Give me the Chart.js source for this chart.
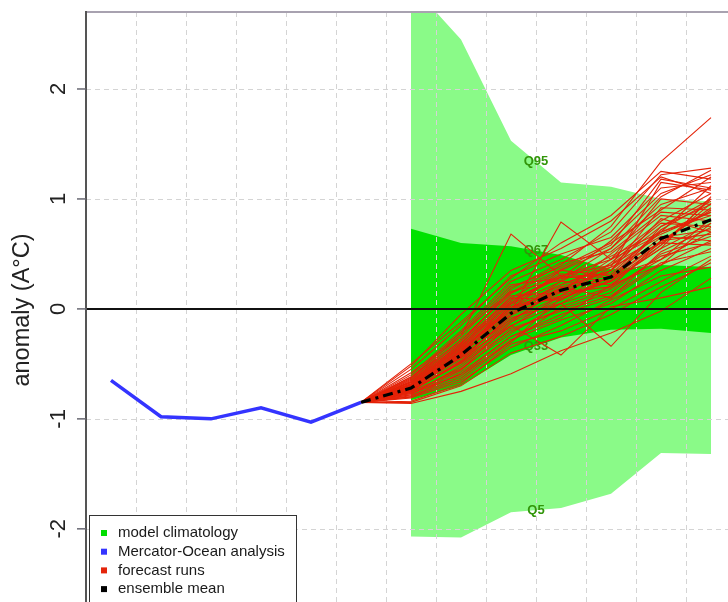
<!DOCTYPE html>
<html>
<head>
<meta charset="utf-8">
<script src="https://cdn.jsdelivr.net/npm/chart.js@4.4.1/dist/chart.umd.min.js"></script>
<style>
  html, body { margin: 0; padding: 0; background: #fff; overflow: hidden; width: 728px; height: 602px; }
  #wrap { position: absolute; left: 0; top: 0; width: 800px; height: 650px; }
</style>
</head>
<body>
<div id="wrap"><canvas id="c" width="800" height="650"></canvas></div>
<script>
// Monthly steps: analysis for steps 0..5, forecast from step 5 onwards
const analysisSteps = [0, 1, 2, 3, 4, 5];
const analysisValues = [-0.65, -0.98, -1.0, -0.9, -1.03, -0.85];

const forecastSteps = [6, 7, 8, 9, 10, 11, 12];

// Model climatology quantiles for each forecast step
const q95 = [2.95, 2.45, 1.53, 1.15, 1.11, 1.0, 0.98];
const q67 = [0.73, 0.60, 0.57, 0.49, 0.36, 0.40, 0.38];
const q33 = [-0.83, -0.70, -0.42, -0.26, -0.19, -0.18, -0.22];
const q5  = [-2.07, -2.08, -1.85, -1.81, -1.68, -1.31, -1.32];

// Ensemble mean, starting from the last analysis step
const meanSteps = [5, 6, 7, 8, 9, 10, 11, 12];
const ensembleMean = [-0.85, -0.72, -0.42, -0.04, 0.17, 0.29, 0.64, 0.81];

// Individual forecast members (steps 6..12)
const forecastRuns = [
  [-0.70, -0.40, -0.05, 0.20, 0.35, 0.70, 0.85],
  [-0.75, -0.48, -0.10, 0.12, 0.25, 0.55, 0.78],
  [-0.68, -0.35, 0.05, 0.30, 0.45, 0.80, 1.05],
  [-0.80, -0.58, -0.25, -0.05, 0.10, 0.40, 0.62],
  [-0.72, -0.42, 0.00, 0.18, 0.28, 0.62, 0.90],
  [-0.62, -0.30, 0.10, 0.35, 0.55, 0.95, 1.10],
  [-0.78, -0.52, -0.15, 0.05, 0.20, 0.45, 0.70],
  [-0.58, -0.25, 0.68, 0.30, 0.40, 0.75, 0.95],
  [-0.74, -0.38, -0.02, 0.79, 0.45, 0.68, 0.88],
  [-0.86, -0.75, -0.59, -0.38, -0.22, -0.02, 0.28],
  [-0.66, -0.28, 0.15, 0.40, 0.75, 1.34, 1.74],
  [-0.71, -0.44, -0.08, 0.05, -0.34, 0.15, 0.45],
  [-0.60, -0.20, 0.25, 0.45, 0.70, 1.22, 1.28],
  [-0.76, -0.55, -0.12, 0.08, 0.30, 0.65, 0.72],
  [-0.69, -0.36, 0.02, 0.22, 0.38, 1.15, 1.08],
  [-0.73, -0.50, -0.20, 0.00, 0.15, 0.50, 0.66],
  [-0.64, -0.25, 0.20, 0.38, 0.60, 0.90, 1.20],
  [-0.79, -0.62, -0.28, -0.10, 0.05, 0.35, 0.55],
  [-0.70, -0.41, 0.08, 0.28, 0.32, 0.72, 0.98],
  [-0.67, -0.33, 0.12, 0.15, 0.50, 0.85, 0.80],
  [-0.75, -0.47, -0.05, 0.25, 0.22, 0.58, 1.00],
  [-0.55, -0.15, 0.30, 0.50, 0.65, 1.10, 1.15],
  [-0.77, -0.60, -0.30, 0.02, 0.18, 0.48, 0.60],
  [-0.72, -0.39, 0.00, 0.12, 0.42, 0.78, 0.75],
  [-0.52, -0.05, 0.35, 0.55, 0.80, 1.20, 1.05],
  [-0.81, -0.66, -0.35, -0.15, 0.08, 0.30, 0.38],
  [-0.68, -0.34, 0.06, 0.32, 0.28, 0.60, 0.92],
  [-0.74, -0.43, -0.10, 0.18, 0.35, 0.82, 0.70],
  [-0.71, -0.37, 0.02, 0.10, 0.25, 0.55, 1.02],
  [-0.66, -0.31, 0.18, 0.42, 0.52, 0.88, 0.85],
  [-0.78, -0.56, -0.18, -0.02, 0.12, 0.42, 0.52],
  [-0.63, -0.22, 0.22, 0.28, 0.62, 1.05, 1.22],
  [-0.73, -0.45, -0.06, 0.15, 0.20, 0.62, 0.68],
  [-0.70, -0.40, 0.04, 0.25, 0.48, 0.70, 1.12],
  [-0.76, -0.54, -0.22, 0.05, 0.30, 0.45, 0.82],
  [-0.69, -0.35, 0.10, 0.08, 0.35, 0.92, 0.90],
  [-0.74, -0.48, -0.12, 0.20, 0.10, 0.52, 0.74],
  [-0.65, -0.28, 0.14, 0.36, 0.58, 1.18, 1.10],
  [-0.84, -0.68, -0.32, -0.20, 0.00, 0.25, 0.48],
  [-0.71, -0.42, -0.03, 0.22, 0.40, 0.66, 0.62],
  [-0.67, -0.32, 0.08, 0.30, 0.25, 0.75, 1.00],
  [-0.75, -0.49, -0.16, 0.12, 0.38, 0.60, 0.58],
  [-0.72, -0.40, 0.02, 0.16, 0.45, 1.00, 0.95],
  [-0.69, -0.38, 0.00, 0.35, 0.30, 0.70, 0.88],
  [-0.77, -0.60, -0.25, -0.08, 0.22, 0.40, 0.78],
  [-0.70, -0.45, -0.15, -0.42, 0.02, 0.10, 0.20],
  [-0.50, -0.12, 0.28, 0.60, 0.85, 1.25, 1.18],
  [-0.85, -0.70, -0.40, -0.25, -0.05, 0.20, 0.42],
  [-0.62, -0.22, 0.16, 0.26, 0.55, 1.02, 1.26],
  [-0.80, -0.64, -0.30, 0.10, 0.26, 0.58, 0.96]
];

const yTickValues = [-2, -1, 0, 1, 2];
const quantileLabels = ['Q95', 'Q67', 'Q33', 'Q5'];
const legendNames = ['model climatology', 'Mercator-Ocean analysis', 'forecast runs', 'ensemble mean'];
const legendColors = ['rgb(0,222,0)', 'rgb(52,52,255)', 'rgb(228,36,10)', '#000000'];

const FONT = '"Liberation Sans", Arial, Helvetica, sans-serif';
const LIGHT_GREEN = 'rgb(138,250,136)';
const DARK_GREEN = 'rgb(0,226,0)';
const RUN_RED = 'rgb(228,34,8)';
const BLUE = 'rgb(52,52,255)';

const pts = (xs, ys) => xs.map((x, i) => ({ x: x, y: ys[i] }));
const lastAnalysis = analysisValues[analysisValues.length - 1];

const datasets = [
  { label: 'Q95', data: pts(forecastSteps, q95), fill: 1, backgroundColor: LIGHT_GREEN, borderWidth: 0, order: 10 },
  { label: 'Q5', data: pts(forecastSteps, q5), fill: false, borderWidth: 0, order: 9 },
  { label: 'Q67', data: pts(forecastSteps, q67), fill: 3, backgroundColor: DARK_GREEN, borderWidth: 0, order: 8 },
  { label: 'Q33', data: pts(forecastSteps, q33), fill: false, borderWidth: 0, order: 7 }
];
forecastRuns.forEach((run, k) => {
  datasets.push({
    label: 'run' + k,
    data: pts([5].concat(forecastSteps), [lastAnalysis].concat(run)),
    borderColor: RUN_RED, borderWidth: 1.1, fill: false, order: 5
  });
});
datasets.push({
  label: 'zero', data: [{ x: -0.5, y: 0 }, { x: 13.5, y: 0 }],
  borderColor: '#111', borderWidth: 2, fill: false, order: 3
});
datasets.push({
  label: 'ensemble mean', data: pts(meanSteps, ensembleMean),
  borderColor: '#000', borderWidth: 3.2, borderDash: [10, 5, 3, 5], fill: false, order: 2
});
datasets.push({
  label: 'Mercator-Ocean analysis', data: pts(analysisSteps, analysisValues),
  borderColor: BLUE, borderWidth: 3.5, fill: false, order: 1
});

// Grid and quantile labels drawn above the climatology bands
const decor = {
  id: 'decor',
  afterDatasetDraw(chart, args) {
    if (args.index !== 3) return;
    const ctx = chart.ctx, a = chart.chartArea;
    const xs = chart.scales.x, ys = chart.scales.y;
    ctx.save();
    ctx.beginPath(); ctx.rect(a.left, a.top, a.right - a.left, a.bottom - a.top); ctx.clip();
    ctx.strokeStyle = 'rgb(212,212,212)';
    ctx.lineWidth = 1;
    ctx.setLineDash([5, 4]);
    for (let s = 0.5; s < 13.5; s += 1) {
      const px = Math.round(xs.getPixelForValue(s)) + 0.5;
      ctx.beginPath(); ctx.moveTo(px, a.top); ctx.lineTo(px, a.bottom); ctx.stroke();
    }
    yTickValues.forEach(v => {
      const py = Math.round(ys.getPixelForValue(v)) + 0.5;
      ctx.beginPath(); ctx.moveTo(a.left, py); ctx.lineTo(a.right, py); ctx.stroke();
    });
    ctx.setLineDash([]);
    // quantile labels placed halfway between steps 8 and 9
    const qs = [q95, q67, q33, q5];
    ctx.fillStyle = 'rgb(50,150,10)';
    ctx.font = 'bold 13px ' + FONT;
    ctx.textAlign = 'center';
    ctx.textBaseline = 'middle';
    const lx = xs.getPixelForValue(8.5);
    qs.forEach((q, i) => {
      const ly = ys.getPixelForValue((q[2] + q[3]) / 2);
      ctx.fillText(quantileLabels[i], lx, ly);
    });
    ctx.restore();
  },
  afterDraw(chart) {
    const ctx = chart.ctx, a = chart.chartArea;
    const ys = chart.scales.y;
    ctx.save();
    // frame
    ctx.strokeStyle = 'rgb(168,162,176)';
    ctx.lineWidth = 2;
    ctx.beginPath(); ctx.moveTo(a.left, a.top); ctx.lineTo(a.right, a.top); ctx.stroke();
    ctx.strokeStyle = 'rgb(85,85,85)';
    ctx.beginPath(); ctx.moveTo(a.left, a.top - 1); ctx.lineTo(a.left, a.bottom); ctx.stroke();
    // y ticks and rotated labels
    ctx.lineWidth = 1.5;
    ctx.strokeStyle = 'rgb(105,105,115)';
    ctx.fillStyle = '#222';
    ctx.font = '22px ' + FONT;
    ctx.textAlign = 'center';
    ctx.textBaseline = 'alphabetic';
    yTickValues.forEach(v => {
      const py = ys.getPixelForValue(v);
      ctx.beginPath(); ctx.moveTo(a.left - 9, py); ctx.lineTo(a.left, py); ctx.stroke();
      ctx.save();
      ctx.translate(57 + 8, py);
      ctx.rotate(-Math.PI / 2);
      ctx.fillText(String(v), 0, 0);
      ctx.restore();
    });
    // axis title
    ctx.save();
    ctx.font = '23.5px ' + FONT;
    ctx.translate(29, (a.top + a.bottom) / 2);
    ctx.rotate(-Math.PI / 2);
    ctx.fillText('anomaly (A°C)', 0, 0);
    ctx.restore();
    // legend box
    const bx = 89, by = 515, bw = 207, bh = 100;
    ctx.fillStyle = '#fff';
    ctx.fillRect(bx, by, bw, bh);
    ctx.strokeStyle = '#333';
    ctx.lineWidth = 1;
    ctx.strokeRect(bx + 0.5, by + 0.5, bw, bh);
    ctx.font = '15px ' + FONT;
    ctx.textAlign = 'left';
    ctx.textBaseline = 'middle';
    legendNames.forEach((name, i) => {
      const ry = 533 + i * 18.7;
      ctx.fillStyle = legendColors[i];
      ctx.fillRect(101, ry - 3, 6, 6);
      ctx.fillStyle = '#1a1a1a';
      ctx.fillText(name, 118, ry);
    });
    ctx.restore();
  }
};

new Chart(document.getElementById('c'), {
  type: 'line',
  data: { datasets: datasets },
  options: {
    responsive: false,
    animation: false,
    devicePixelRatio: 1,
    layout: { padding: { left: 86, top: 12, right: 14, bottom: 42 } },
    elements: { point: { radius: 0 }, line: { tension: 0 } },
    scales: {
      x: { type: 'linear', min: -0.5, max: 13.5, display: false },
      y: { type: 'linear', min: -2.72, max: 2.7, display: false }
    },
    plugins: { legend: { display: false }, tooltip: { enabled: false } }
  },
  plugins: [decor]
});
</script>
</body>
</html>
